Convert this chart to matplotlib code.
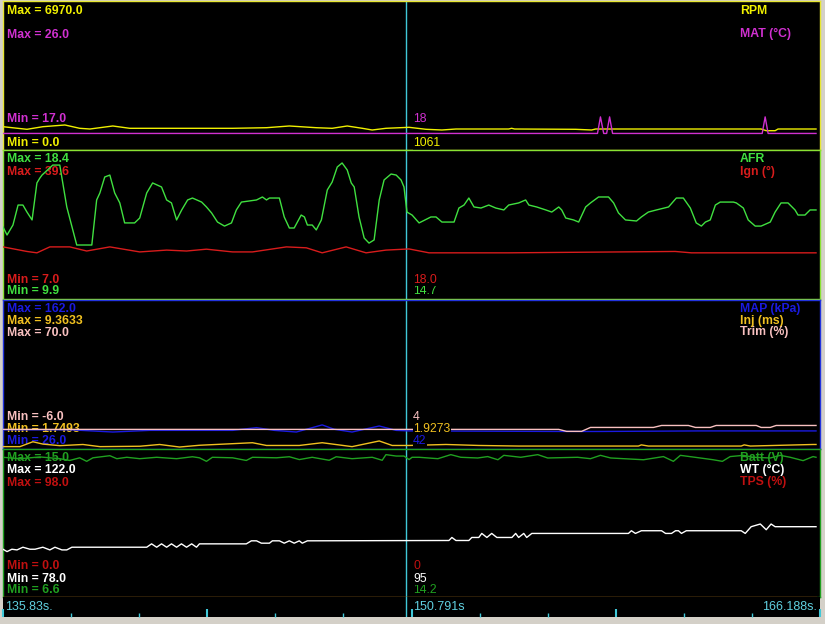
import numpy as np
import matplotlib.pyplot as plt

plt.rcParams['font.family'] = ['Liberation Sans', 'DejaVu Sans']

T_START = 135.83
T_END = 166.188
T_CURSOR = 150.791

# logged channels: (seconds after T_START, value)
rpm_log = [(0.00, 1090), (0.89, 968), (1.48, 1090), (2.30, 1170), (2.85, 1015), (3.23, 982),
           (4.08, 1123), (4.71, 1015), (8.53, 1015), (9.79, 1043), (10.64, 1123), (11.64, 1043),
           (12.23, 1015), (12.79, 1123), (13.35, 1015), (13.72, 936), (14.23, 1015), (15.09, 1061),
           (15.72, 968), (16.31, 936), (16.83, 982), (18.79, 982), (18.90, 1015), (19.01, 982),
           (21.28, 968), (21.87, 936), (22.02, 982), (28.17, 982), (28.36, 903), (28.69, 903),
           (28.80, 982), (30.21, 982)]

mat_log = [(0.00, 18), (22.09, 18), (22.20, 19), (22.32, 18), (22.43, 18), (22.54, 19),
           (22.65, 18), (28.21, 18), (28.32, 19), (28.43, 18), (30.21, 18)]

afr_log = [(0.00, 14.01), (0.15, 13.55), (0.37, 14.12), (0.56, 15.26), (0.74, 15.26), (0.89, 14.86),
           (1.08, 14.41), (1.26, 16.52), (1.37, 16.80), (1.45, 16.97), (1.85, 17.54), (2.11, 17.54),
           (2.37, 15.15), (2.74, 12.98), (3.30, 12.98), (3.48, 15.55), (3.60, 15.95), (3.78, 16.86),
           (3.97, 16.97), (4.15, 15.95), (4.34, 15.38), (4.52, 14.24), (4.89, 14.24), (5.08, 14.52),
           (5.34, 15.95), (5.56, 16.52), (5.89, 16.29), (6.08, 15.55), (6.26, 15.38), (6.45, 14.41),
           (6.64, 14.98), (6.86, 15.55), (7.04, 15.66), (7.38, 15.43), (7.56, 15.15), (7.75, 14.81),
           (7.97, 14.29), (8.23, 14.06), (8.49, 14.24), (8.67, 14.98), (8.86, 15.43), (9.42, 15.55),
           (9.64, 15.72), (9.79, 15.55), (9.90, 15.66), (10.27, 15.66), (10.45, 14.58), (10.64, 13.95),
           (10.82, 13.95), (11.08, 14.69), (11.20, 14.58), (11.31, 14.12), (11.49, 14.12), (11.64, 13.84),
           (11.83, 14.41), (12.05, 16.12), (12.23, 16.57), (12.42, 17.43), (12.60, 17.66), (12.79, 17.26),
           (12.94, 16.52), (13.05, 16.29), (13.23, 14.58), (13.42, 13.38), (13.60, 13.09), (13.79, 13.27),
           (13.98, 15.55), (14.16, 16.69), (14.42, 17.03), (14.61, 16.97), (14.79, 16.69), (14.90, 16.29),
           (15.01, 14.86), (15.20, 14.69), (15.46, 14.24), (15.90, 14.58), (16.09, 14.58), (16.31, 14.29),
           (16.76, 14.29), (16.94, 15.09), (17.13, 15.26), (17.31, 15.66), (17.50, 15.15), (17.76, 15.09),
           (18.05, 15.26), (18.31, 15.09), (18.61, 14.98), (18.79, 15.26), (19.16, 15.38), (19.42, 15.55),
           (19.54, 15.26), (19.83, 15.15), (20.17, 14.98), (20.39, 14.86), (20.65, 15.15), (20.76, 14.98),
           (20.91, 14.52), (21.20, 14.41), (21.39, 14.29), (21.65, 15.15), (21.83, 15.38), (22.13, 15.72),
           (22.50, 15.72), (22.69, 15.38), (22.87, 14.81), (23.13, 14.41), (23.54, 14.35), (23.72, 14.58),
           (23.98, 14.86), (24.28, 14.98), (24.73, 15.15), (25.02, 15.66), (25.28, 15.66), (25.54, 15.09),
           (25.76, 14.24), (25.95, 14.06), (26.10, 14.29), (26.28, 14.41), (26.47, 15.26), (26.65, 15.43),
           (27.14, 15.43), (27.25, 15.38), (27.51, 15.09), (27.69, 14.41), (27.95, 14.06), (28.17, 14.06),
           (28.51, 14.29), (28.69, 14.86), (28.91, 15.38), (29.17, 15.38), (29.43, 14.98), (29.54, 14.69),
           (29.80, 14.69), (29.99, 14.98), (30.21, 14.98)]

ign_log = [(0.00, 18.4), (0.89, 17.4), (1.26, 17.1), (1.74, 18.4), (2.48, 18.4), (3.11, 17.5),
           (3.97, 18.4), (5.08, 17.3), (6.08, 17.7), (6.82, 17.5), (7.56, 17.9), (8.53, 17.3),
           (9.27, 17.3), (10.53, 18.4), (11.27, 18.2), (11.86, 17.1), (12.75, 18.4), (13.49, 17.1),
           (14.23, 17.7), (15.09, 17.95), (15.83, 17.1), (18.79, 17.1), (24.98, 17.4), (25.58, 17.1),
           (30.21, 17.1)]

map_log = [(0.00, 43.5), (2.50, 43.5), (4.08, 41.5), (5.45, 43), (8.53, 43), (9.42, 45.5),
           (10.08, 43), (10.90, 41.5), (11.86, 48), (12.31, 44), (12.97, 41.5), (13.98, 47),
           (14.61, 43), (15.09, 42.5), (20.83, 42), (22.13, 42), (25.84, 42.5), (30.21, 42.5)]

inj_log = [(0.00, 1.87), (0.63, 1.87), (1.11, 2.12), (1.48, 2.00), (2.11, 1.92), (2.97, 1.98),
           (3.60, 1.87), (5.08, 1.89), (5.82, 1.98), (6.56, 1.85), (7.30, 1.94), (9.27, 2.07),
           (9.79, 1.93), (11.01, 1.93), (11.86, 2.07), (12.97, 1.87), (13.98, 2.16), (14.46, 1.93),
           (15.09, 1.93), (16.46, 1.98), (17.68, 1.93), (19.16, 1.90), (23.61, 1.90), (23.72, 1.96),
           (23.98, 1.90), (27.43, 1.90), (27.54, 1.96), (27.77, 1.90), (30.10, 1.98), (30.21, 1.98)]

trim_log = [(0.00, 4), (20.65, 4), (20.94, 3), (21.50, 3), (21.83, 5), (24.17, 5), (24.47, 6),
            (25.47, 6), (25.73, 5), (26.28, 5), (26.50, 6), (27.99, 6), (28.17, 5), (28.51, 5),
            (28.73, 6), (30.21, 6)]

batt_log = [(0.00, 14.53), (0.63, 14.45), (1.37, 14.55), (2.11, 14.45), (2.48, 14.35), (2.85, 14.50),
            (3.11, 14.30), (3.34, 14.50), (3.97, 14.62), (4.23, 14.45), (4.60, 14.53), (5.08, 14.45),
            (5.71, 14.53), (6.45, 14.45), (7.04, 14.56), (7.30, 14.50), (7.56, 14.30), (7.78, 14.53),
            (8.53, 14.50), (9.04, 14.35), (9.27, 14.53), (10.16, 14.50), (10.64, 14.56), (11.01, 14.40),
            (11.49, 14.53), (12.12, 14.36), (12.38, 14.56), (12.97, 14.45), (13.72, 14.53), (14.09, 14.36),
            (14.23, 14.68), (14.61, 14.60), (14.90, 14.60), (15.09, 14.40), (15.20, 14.53), (15.46, 14.53),
            (16.16, 14.45), (16.64, 14.68), (17.01, 14.53), (17.64, 14.49), (18.01, 14.57), (18.39, 14.39),
            (18.61, 14.64), (19.24, 14.53), (19.87, 14.68), (20.24, 14.49), (21.35, 14.53), (21.83, 14.45),
            (22.20, 14.64), (22.58, 14.49), (23.80, 14.39), (24.54, 14.57), (24.91, 14.30), (25.17, 14.64),
            (25.91, 14.49), (26.39, 14.39), (26.73, 14.30), (27.02, 14.57), (27.51, 14.64), (27.88, 14.53),
            (28.51, 14.49), (28.88, 14.64), (29.25, 14.53), (29.73, 14.34), (30.10, 14.57), (30.21, 14.53)]

wt_log = [(0.00, 92.2), (0.15, 91.5), (0.33, 92.2), (0.52, 92.0), (0.74, 92.8), (1.00, 92.2),
          (1.19, 92.2), (1.48, 92.8), (1.74, 92.0), (1.93, 92.8), (2.19, 92.0), (2.37, 92.0),
          (2.56, 92.8), (5.34, 92.8), (5.52, 93.8), (5.71, 92.8), (5.89, 93.8), (6.08, 92.8),
          (6.26, 93.8), (6.45, 92.8), (6.63, 93.8), (6.82, 92.8), (7.01, 93.8), (7.19, 92.8),
          (7.30, 93.8), (9.04, 93.8), (9.23, 94.7), (9.42, 94.7), (9.60, 94.0), (9.90, 94.0),
          (10.01, 94.7), (10.27, 94.7), (10.45, 94.0), (10.64, 94.7), (10.82, 94.0), (11.01, 94.7),
          (11.12, 94.0), (11.31, 94.7), (16.57, 94.8), (16.68, 95.7), (16.83, 94.8), (17.31, 94.8),
          (17.42, 95.7), (17.68, 95.7), (17.79, 96.9), (17.98, 95.7), (18.16, 96.9), (18.35, 95.7),
          (18.91, 95.7), (19.05, 96.9), (19.16, 95.7), (19.35, 96.9), (19.46, 95.7), (19.65, 96.9),
          (23.24, 96.9), (23.35, 97.7), (23.50, 96.9), (23.72, 97.7), (24.47, 97.7), (24.62, 96.9),
          (24.84, 96.9), (24.99, 97.7), (25.10, 97.7), (25.21, 96.9), (25.39, 97.7), (27.43, 97.7),
          (27.58, 96.9), (27.80, 98.9), (28.14, 99.7), (28.36, 98.0), (28.54, 99.7), (28.69, 98.9),
          (30.21, 98.9)]

tps_log = [(0.00, 0), (30.21, 0)]

# (name, log, min, max, decimals, colour, value at cursor)
rpm = ('RPM', rpm_log, 0.0, 6970.0, 1, '#f0f000', '1061')
mat = ('MAT (°C)', mat_log, 17.0, 26.0, 1, '#d030d0', '18')
afr = ('AFR', afr_log, 9.9, 18.4, 1, '#40e040', '14.7')
ign = ('Ign (°)', ign_log, 7.0, 39.6, 1, '#d81c1c', '18.0')
mapk = ('MAP (kPa)', map_log, 26.0, 162.0, 1, '#1a1ae0', '42')
inj = ('Inj (ms)', inj_log, 1.7493, 9.3633, 4, '#f0c020', '1.9273')
trim = ('Trim (%)', trim_log, -6.0, 70.0, 1, '#f8c0c0', '4')
batt = ('Batt (V)', batt_log, 6.6, 15.0, 1, '#20a020', '14.2')
wt = ('WT (°C)', wt_log, 78.0, 122.0, 1, '#ffffff', '95')
tps = ('TPS (%)', tps_log, 0.0, 98.0, 1, '#c01010', '0')

W, H = 825, 624
CURSOR_COLOR = '#40c8d8'
FS = 8.8


def box(x0, y0, x1, y1):
    return [x0 / W, 1 - y1 / H, (x1 - x0) / W, (y1 - y0) / H]


def fx(x):
    return x / W


def fy(y):
    return 1 - y / H


fig = plt.figure(figsize=(W / 100, H / 100), dpi=100, facecolor='#d4d0c8')

# pixel box, border colour, baselines of max rows, baselines of min rows
panels = [
    ((3, 1, 820, 150), '#e6e632', [14, 37.5], [146.5, 122], [rpm, mat]),
    ((3, 150, 820, 299), '#8ae234', [162, 175], [294, 283], [afr, ign]),
    ((3, 300, 820, 449), '#2233dd', [312, 324, 335.5], [444, 432, 420], [mapk, inj, trim]),
    ((3, 449, 820, 597), '#1fa01f', [461, 473, 485.5], [593, 581.5, 569], [batt, wt, tps]),
]

for rect, edge, max_rows, min_rows, series in panels:
    ax = fig.add_axes(box(*rect))
    ax.set_facecolor('black')
    ax.set_xlim(T_START, T_END)
    ax.set_xticks([])
    ax.set_yticks([])
    for sp in ax.spines.values():
        sp.set_color(edge)
        sp.set_linewidth(1.0)
    ax.axvline(T_CURSOR, color=CURSOR_COLOR, lw=1)

    for (name, log, lo, hi, dec, color, cur), ymax, ymin in zip(series, max_rows, min_rows):
        ax.text(fx(7), fy(ymax), f'Max = {hi:.{dec}f}', color=color, fontsize=FS,
                fontweight='bold', transform=fig.transFigure, va='baseline')
        ax.text(fx(7), fy(ymin), f'Min = {lo:.{dec}f}', color=color, fontsize=FS,
                fontweight='bold', transform=fig.transFigure, va='baseline')
        ax.text(fx(740), fy(ymax), name, color=color, fontsize=FS,
                fontweight='bold', transform=fig.transFigure, va='baseline')

    twins = []
    for name, log, lo, hi, dec, color, cur in series:
        tw = ax.twinx()
        tw.set_ylim(lo, hi)
        t, v = zip(*log)
        tw.plot(T_START + np.array(t), v, color=color, lw=1.0)
        tw.axis('off')
        twins.append(tw)

    top = twins[-1]
    for (name, log, lo, hi, dec, color, cur), ymin in zip(series, min_rows):
        top.text(fx(413), fy(ymin), cur, color=color, fontsize=FS, transform=fig.transFigure,
                 va='baseline', bbox=dict(facecolor='black', edgecolor='none', pad=0.3))

# time strip
ts = fig.add_axes(box(3, 597, 820, 617))
ts.set_facecolor('black')
ts.set_xlim(T_START, T_END)
ts.set_yticks([])
for sp in ts.spines.values():
    sp.set_visible(False)
span = T_END - T_START
ts.set_xticks([T_START + span * k / 4 for k in range(5)])
ts.set_xticks([T_START + span * k / 12 for k in range(13)], minor=True)
ts.tick_params(axis='x', which='major', direction='in', length=6, width=1.5,
               color=CURSOR_COLOR, labelbottom=False)
ts.tick_params(axis='x', which='minor', direction='in', length=3, width=1,
               color=CURSOR_COLOR)
ts.axvline(T_CURSOR, color=CURSOR_COLOR, lw=1)
ts.text(fx(5), fy(610), f'{T_START}s.', color='#60d0e0', fontsize=9,
        transform=fig.transFigure, va='baseline')
ts.text(fx(413), fy(610), f'{T_CURSOR}s', color='#60d0e0', fontsize=9,
        transform=fig.transFigure, va='baseline')
ts.text(fx(817), fy(610), f'{T_END}s.', color='#60d0e0', fontsize=9, ha='right',
        transform=fig.transFigure, va='baseline')

fig.savefig('out.png', dpi=100, facecolor=fig.get_facecolor())
